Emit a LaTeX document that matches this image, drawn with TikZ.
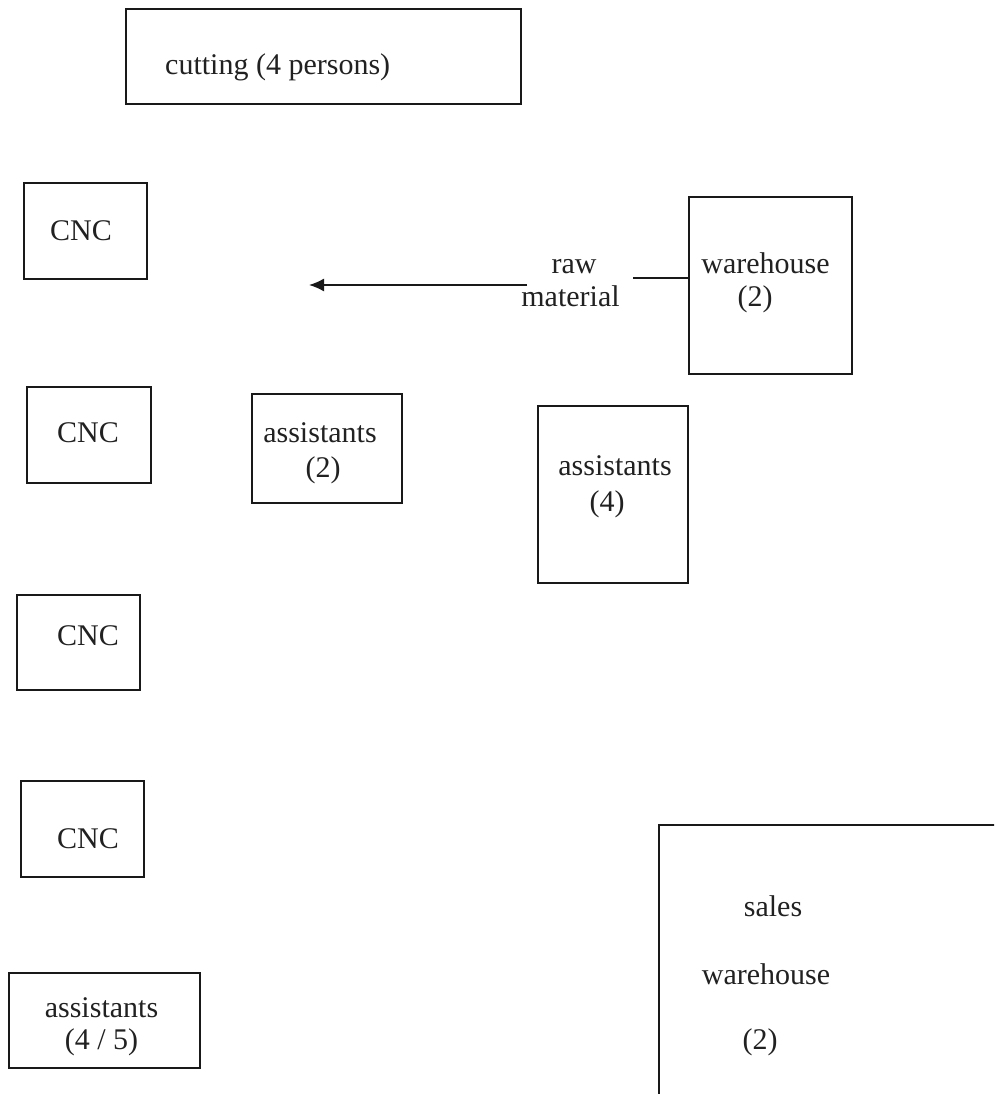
\documentclass[tikz,border=0pt]{standalone}
\usepackage{fontspec}
\setmainfont{Liberation Serif}
\usetikzlibrary{arrows.meta}
\begin{document}
\begin{tikzpicture}[x=1pt,y=-1pt,
  box/.style={draw=black!90, line width=1.5pt, inner sep=0pt},
  txt/.style={anchor=base, inner sep=0pt, font=\fontsize{30}{34}\selectfont, text=black!87},
  conn/.style={draw=black!90, line width=1.5pt},
  arr/.style={conn, -{Latex[length=15pt,width=13pt]}}]
\clip (0,0) rectangle (994,1094);
\path[use as bounding box] (0,0) rectangle (994,1094);
% boxes
\node[box, minimum width=395pt, minimum height=95pt] (cut) at (323.5,56.5) {};
\node[box, minimum width=123pt, minimum height=96pt] (cnc1) at (85.5,231) {};
\node[box, minimum width=124pt, minimum height=96pt] (cnc2) at (89,435) {};
\node[box, minimum width=123pt, minimum height=95pt] (cnc3) at (78.5,642.5) {};
\node[box, minimum width=123pt, minimum height=96pt] (cnc4) at (82.5,829) {};
\node[box, minimum width=150pt, minimum height=109pt] (as2) at (327,448.5) {};
\node[box, minimum width=150pt, minimum height=177pt] (as4) at (613,494.5) {};
\node[box, minimum width=163pt, minimum height=177pt] (wh) at (770.5,285.5) {};
\node[box, minimum width=191pt, minimum height=95pt] (as45) at (104.5,1020.5) {};
\node[box, minimum width=351pt, minimum height=285pt] (sw) at (834.5,967.5) {};
% texts
\node[txt, anchor=base west] (tcut) at (165,75) {cutting (4 persons)};
\node[txt] (tcnc1) at (81,240) {CNC};
\node[txt] (tcnc2) at (88,442) {CNC};
\node[txt] (tcnc3) at (88,645) {CNC};
\node[txt] (tcnc4) at (88,848) {CNC};
\node[txt] (tas2a) at (320,442) {assistants};
\node[txt] (tas2b) at (323,477) {(2)};
\node[txt] (tas4a) at (615,475) {assistants};
\node[txt] (tas4b) at (607,511) {(4)};
\node[txt] (twha) at (765.5,273) {warehouse};
\node[txt] (twhb) at (755,306) {(2)};
\node[txt] (traw) at (574,273) {raw};
\node[txt] (tmat) at (570.5,306) {material};
\node[txt] (tswa) at (773,916) {sales};
\node[txt] (tswb) at (766,984) {warehouse};
\node[txt] (tswc) at (760,1049) {(2)};
\node[txt] (tas45a) at (101.5,1017) {assistants};
\node[txt] (tas45b) at (101.5,1049) {(4 / 5)};
% connectors
\coordinate (a0) at (527,285);
\coordinate (a1) at (309,285);
\draw[arr] (a0) -- (a1);
\coordinate (l0) at (633,278);
\draw[conn] (l0) -- (l0 -| wh.west);
\end{tikzpicture}
\end{document}
